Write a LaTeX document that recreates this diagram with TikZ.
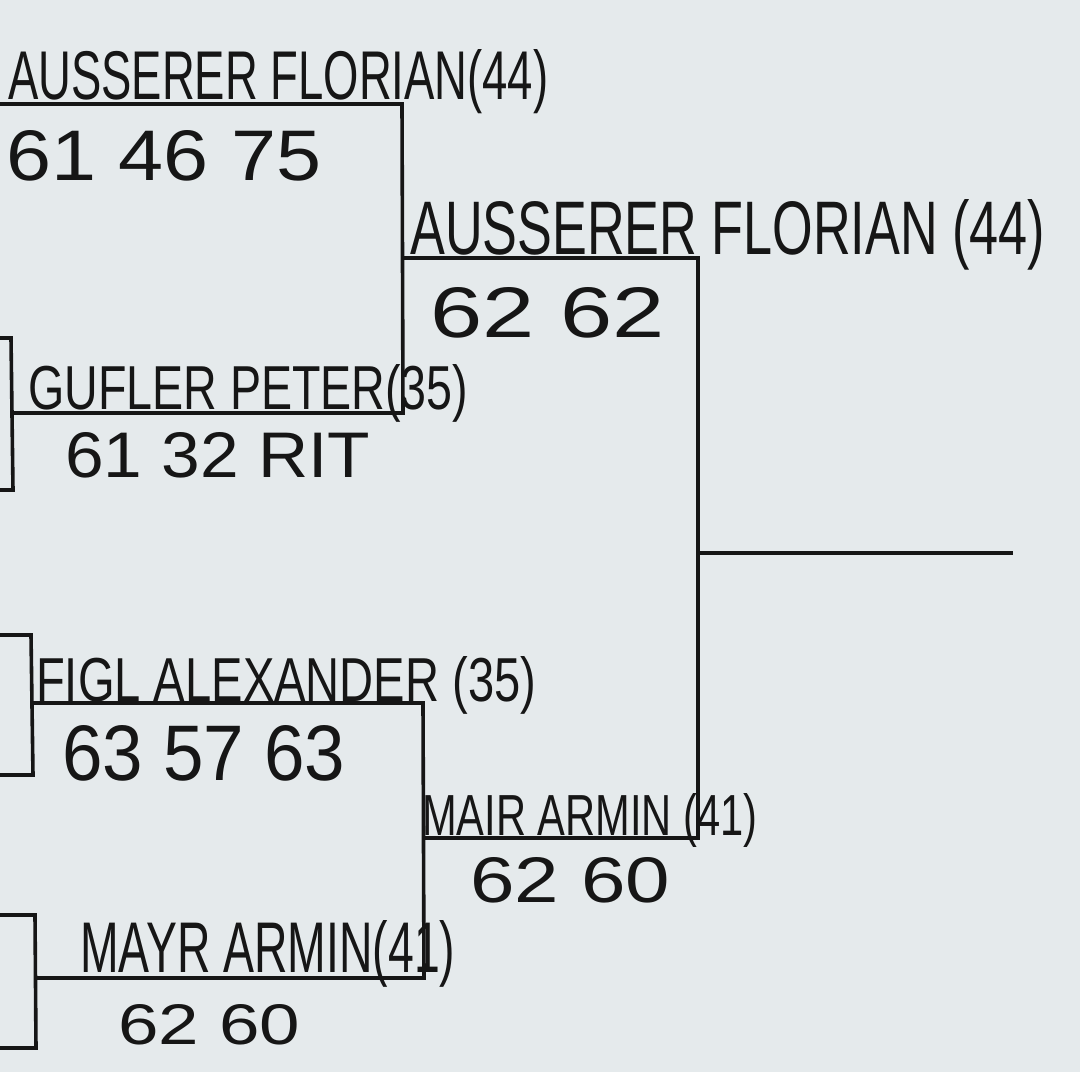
\documentclass[tikz,border=0pt]{standalone}
\usepackage{fontspec}
\setmainfont{Liberation Sans}
\usepackage{graphicx}
\definecolor{paper}{HTML}{E5EAEC}
\definecolor{ink}{HTML}{161616}
\newcommand{\hwtext}[3]{\resizebox{#1pt}{#2pt}{#3}}
\begin{document}
\begin{tikzpicture}[x=1pt,y=-1pt,
  bline/.style={draw=ink,line width=3.6pt,line join=miter,line cap=butt},
  hand/.style={anchor=base west,inner sep=0pt,text=ink}]
\fill[paper] (0,0) rectangle (1080,1072);
\useasboundingbox (0,0) rectangle (1080,1072);
% coordinates of bracket corners
\coordinate (t0) at (0,104);
\coordinate (t1) at (402,104);
\coordinate (g0) at (10,413);
\coordinate (g1) at (403,413);
\coordinate (s0) at (403,258);
\coordinate (s1) at (698,258);
\coordinate (m0) at (423,838);
\coordinate (m1) at (698,838);
\coordinate (f0) at (32,703);
\coordinate (f1) at (423,703);
\coordinate (y0) at (36,978);
\coordinate (y1) at (424,978);
\coordinate (w0) at (698,553);
\coordinate (w1) at (1013,553);
% left fragments
\coordinate (l1a) at (0,338); \coordinate (l1b) at (11,338);
\coordinate (l1c) at (13,490); \coordinate (l1d) at (0,490);
\coordinate (l2a) at (0,635); \coordinate (l2b) at (31,635);
\coordinate (l2c) at (33,775); \coordinate (l2d) at (0,775);
\coordinate (l3a) at (0,915); \coordinate (l3b) at (35,915);
\coordinate (l3c) at (36,1048); \coordinate (l3d) at (0,1048);
% bracket lines
\draw[bline] (t0) -- (t1) -- (g1) -- (g0);
\draw[bline] (s0) -- (s1) -- (m1) -- (m0);
\draw[bline] (f0) -- (f1) -- (y1) -- (y0);
\draw[bline] (w0) -- (w1);
\draw[bline] (l1a) -- (l1b) -- (l1c) -- (l1d);
\draw[bline] (l2a) -- (l2b) -- (l2c) -- (l2d);
\draw[bline] (l3a) -- (l3b) -- (l3c) -- (l3d);
% texts
\node[hand] (n1) at (8,99) {\hwtext{540}{50}{AUSSERER FLORIAN(44)}};
\node[hand] (r1) at (6,180) {\hwtext{315}{50}{61 46 75}};
\node[hand] (n2) at (410,254) {\hwtext{635}{55}{AUSSERER FLORIAN (44)}};
\node[hand] (r2) at (430,337) {\hwtext{235}{50}{62 62}};
\node[hand] (n3) at (28,409) {\hwtext{440}{45}{GUFLER PETER(35)}};
\node[hand] (r3) at (65,477) {\hwtext{305}{45}{61 32 RIT}};
\node[hand] (n4) at (36,701) {\hwtext{500}{45}{FIGL ALEXANDER (35)}};
\node[hand] (r4) at (62,780) {\hwtext{283}{55}{63 57 63}};
\node[hand] (n5) at (422,835) {\hwtext{335}{42}{MAIR ARMIN (41)}};
\node[hand] (r5) at (470,902) {\hwtext{200}{45}{62 60}};
\node[hand] (n6) at (80,972) {\hwtext{375}{52}{MAYR ARMIN(41)}};
\node[hand] (r6) at (118,1044) {\hwtext{182}{40}{62 60}};
\end{tikzpicture}
\end{document}
